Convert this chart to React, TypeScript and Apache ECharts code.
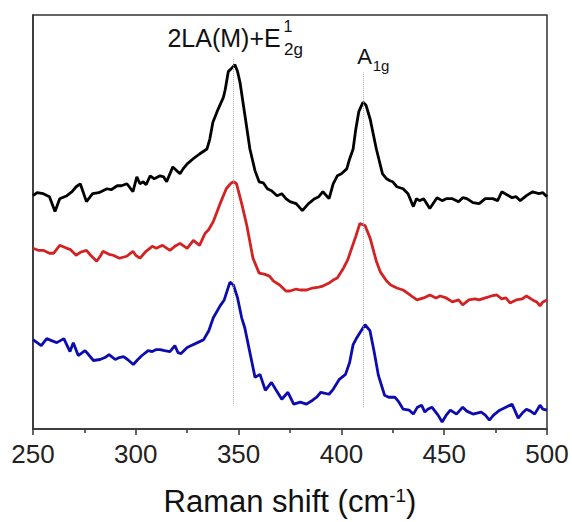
import React, { useEffect, useRef } from "react";
import * as echarts from "echarts";

// Raman shift (cm-1), intensity (arbitrary, offset) pairs
const blackData: number[][] = [
  [250, 235], [252, 238], [255, 237], [258, 234], [260.7, 219], [263, 232], [266.5, 235], [269, 239],
  [271, 244], [273, 247], [276, 229], [279, 237], [282, 238], [286, 242], [288, 241], [291, 245],
  [293, 245], [295.7, 247], [298.6, 239], [300.5, 254], [302, 247], [303.6, 249], [305, 246], [307, 255],
  [309, 252], [311.8, 255], [313.5, 254], [315, 249], [318, 264], [321.5, 257], [323, 262], [325, 267],
  [327.8, 272], [331, 277], [334.6, 282], [336, 292], [337.5, 309], [340, 322], [342.6, 334], [343.5, 342],
  [345, 360], [346, 362], [348.2, 367], [349.5, 360], [350.7, 349], [353, 317], [355.5, 282], [358, 260],
  [360, 249], [362, 248], [364, 242], [366, 240], [368.7, 235], [371, 237], [373, 232], [375, 229],
  [378, 227], [381, 220], [384, 227], [387, 232], [389, 234], [391, 239], [394, 232], [396, 247],
  [398, 255], [400, 257], [402.6, 262], [404, 272], [405.7, 282], [407, 302], [408.5, 320], [410.5, 329],
  [412, 326], [414, 312], [417, 282], [420, 257], [422, 252], [423.6, 250], [425, 249], [427, 244],
  [430, 242], [432.4, 237], [435, 224], [436.5, 232], [438, 230], [440, 232], [443, 222], [446.5, 233],
  [449, 230], [451, 232], [454, 232], [457, 229], [459, 233], [461, 232], [464, 228], [467, 227],
  [470, 232], [473.6, 232], [476, 230], [478, 239], [480.5, 236], [483, 233], [485, 234], [487, 230],
  [490, 235], [493, 239], [496, 237], [498, 238], [500, 234],
];

const redData: number[][] = [
  [250, 182], [252.5, 180], [255, 180], [258, 177], [260, 177], [263, 185], [266.5, 182], [268, 181],
  [271, 175], [273, 178], [276, 180], [278, 175], [281, 169], [283, 175], [284, 179], [287, 176],
  [289, 175], [292, 172], [295.6, 174], [298.6, 179], [300, 175], [302, 172], [305, 179], [308, 184],
  [310, 182], [313, 185], [316.6, 180], [319, 184], [321.5, 187], [325, 182], [328, 190], [331, 185],
  [333.7, 197], [335.5, 201], [337.7, 209], [341, 227], [344, 242], [346, 247], [347.5, 249], [349, 247],
  [351.5, 227], [354, 205], [357, 172], [360, 157], [362.5, 156], [365, 154], [367, 149], [370, 145],
  [373, 139], [375, 139], [378, 141], [380, 140], [383, 140], [386, 142], [389, 143], [391, 144],
  [394, 147], [396, 150], [398, 152], [401, 162], [403, 170], [405, 182], [407, 194], [409, 207],
  [411.5, 205], [414, 192], [417, 169], [419, 158], [422, 149], [424, 145], [427, 142], [430, 140],
  [432, 137], [434, 134], [436.8, 130], [440, 132], [443, 135], [446, 132], [448, 134], [451, 132],
  [454, 128], [457, 130], [459, 125], [462, 130], [465, 131], [467, 130], [470, 132], [473, 134],
  [475.6, 135], [478, 131], [480, 132], [482, 127], [485, 130], [488, 131], [490, 134], [493, 130],
  [495, 128], [496.6, 124], [498, 128], [500, 130],
];

const blueData: number[][] = [
  [250, 90], [252, 87], [254, 84], [256.7, 91], [259, 89], [261.6, 87], [265, 91], [268, 78],
  [269.6, 87], [272, 74], [275.3, 79], [277, 75], [279.4, 69], [282.6, 70], [285, 72], [287, 75],
  [290, 70], [292, 72], [294, 73], [296, 70], [298.8, 65], [301, 70], [303, 74], [306, 79],
  [308, 78], [310, 80], [311.8, 80], [314, 79], [316.6, 78], [319, 84], [320.5, 77], [322, 76],
  [325, 82], [327, 84], [330, 87], [333, 90], [335.5, 99], [337.7, 112], [341, 124], [343, 130],
  [345.8, 148], [347.5, 145], [349.5, 132], [351.5, 112], [353, 102], [354.7, 85], [356.5, 67], [358, 52],
  [360.4, 55], [363, 39], [366, 47], [368, 40], [371, 30], [374, 37], [376.8, 25], [380, 27],
  [383, 25], [386, 29], [388, 32], [390, 37], [394, 35], [396, 40], [399, 50], [402, 55],
  [404, 67], [405.7, 85], [407.5, 92], [409, 97], [411.5, 105], [413.9, 99], [416, 77], [418, 54],
  [421, 34], [423, 32], [426, 32], [428, 27], [430, 20], [433, 19], [435, 15], [437, 22],
  [439, 24], [440.6, 17], [442, 20], [444, 22], [447, 14], [449, 7], [451, 14], [453, 19],
  [456, 15], [459, 22], [461, 18], [464, 15], [468, 17], [470, 14], [472, 9], [474, 14],
  [477, 19], [480, 22], [483, 25], [486, 11], [488, 16], [490, 20], [492, 18], [494, 15],
  [496.6, 24], [498, 20], [500, 19],
];

const xTicks = [250, 300, 350, 400, 450, 500];
// peak guide lines: [position, bottom, top]
const peakE2g = [347.3, 25, 374];
const peakA1g = [410.5, 22, 359];

const FONT = "'Liberation Sans', Arial, sans-serif";

export default function App() {
  const ref = useRef<HTMLDivElement>(null);
  useEffect(() => {
    if (!ref.current) return;
    const chart = echarts.init(ref.current, null, { renderer: "svg" });
    const lbl = (text: string, size: number, offset: number[]) => ({
      show: true,
      position: "inside",
      formatter: text,
      fontSize: size,
      fontFamily: FONT,
      color: "#111",
      offset,
    });
    chart.setOption({
      animation: false,
      backgroundColor: "#fff",
      grid: {
        left: 33, right: 25, top: 15, bottom: 90,
        show: true, borderColor: "#333", borderWidth: 1.5, backgroundColor: "transparent",
      },
      xAxis: {
        type: "value",
        min: xTicks[0],
        max: xTicks[xTicks.length - 1],
        interval: 50,
        name: "{a|Raman shift (cm}{s|-1}{a|)}",
        nameLocation: "middle",
        nameGap: 57,
        nameTextStyle: {
          fontFamily: FONT,
          color: "#111",
          rich: {
            a: { fontSize: 31, fontFamily: FONT, color: "#111" },
            s: { fontSize: 19, fontFamily: FONT, color: "#111", verticalAlign: "top" },
          },
        },
        axisLine: { show: true, lineStyle: { color: "#333", width: 1.5 } },
        axisTick: { show: true, inside: false, length: 6, lineStyle: { color: "#333", width: 1.5 } },
        minorTick: { show: true, splitNumber: 2, length: 4, lineStyle: { color: "#333", width: 1.5 } },
        axisLabel: { fontSize: 26, fontFamily: FONT, color: "#222", margin: 12 },
        splitLine: { show: false },
      },
      yAxis: {
        type: "value",
        min: 0,
        max: 417,
        axisLine: { show: true, lineStyle: { color: "#333", width: 1.5 } },
        axisTick: { show: false },
        axisLabel: { show: false },
        splitLine: { show: false },
      },
      series: [
        {
          type: "line",
          data: blackData,
          showSymbol: false,
          symbol: "none",
          lineStyle: { color: "#000", width: 2.8 },
          z: 3,
          markLine: {
            silent: true,
            symbol: "none",
            label: { show: false },
            lineStyle: { color: "#aaa", width: 1, type: "dotted" },
            data: [
              [{ coord: [peakE2g[0], peakE2g[1]] }, { coord: [peakE2g[0], peakE2g[2]] }],
              [{ coord: [peakA1g[0], peakA1g[1]] }, { coord: [peakA1g[0], peakA1g[2]] }],
            ],
          },
          markPoint: {
            silent: true,
            symbol: "circle",
            symbolSize: 1,
            itemStyle: { color: "rgba(0,0,0,0)" },
            data: [
              { coord: [peakE2g[0], peakE2g[2]], label: lbl("2LA(M)+E", 25, [-9, -19.5]) },
              { coord: [peakE2g[0], peakE2g[2]], label: lbl("1", 16, [55, -31]) },
              { coord: [peakE2g[0], peakE2g[2]], label: lbl("2g", 17, [60.5, -8.5]) },
              { coord: [peakA1g[0], peakA1g[2]], label: lbl("A", 22, [1.5, -16]) },
              { coord: [peakA1g[0], peakA1g[2]], label: lbl("1g", 15, [18, -7.5]) },
            ],
          },
        },
        {
          type: "line",
          data: redData,
          showSymbol: false,
          symbol: "none",
          lineStyle: { color: "#d42222", width: 2.8 },
          z: 3,
        },
        {
          type: "line",
          data: blueData,
          showSymbol: false,
          symbol: "none",
          lineStyle: { color: "#0b0bb0", width: 2.8 },
          z: 3,
        },
      ],
    });
    return () => chart.dispose();
  }, []);
  return <div ref={ref} style={{ width: 572, height: 522, position: "absolute", left: 0, top: 0 }} />;
}
